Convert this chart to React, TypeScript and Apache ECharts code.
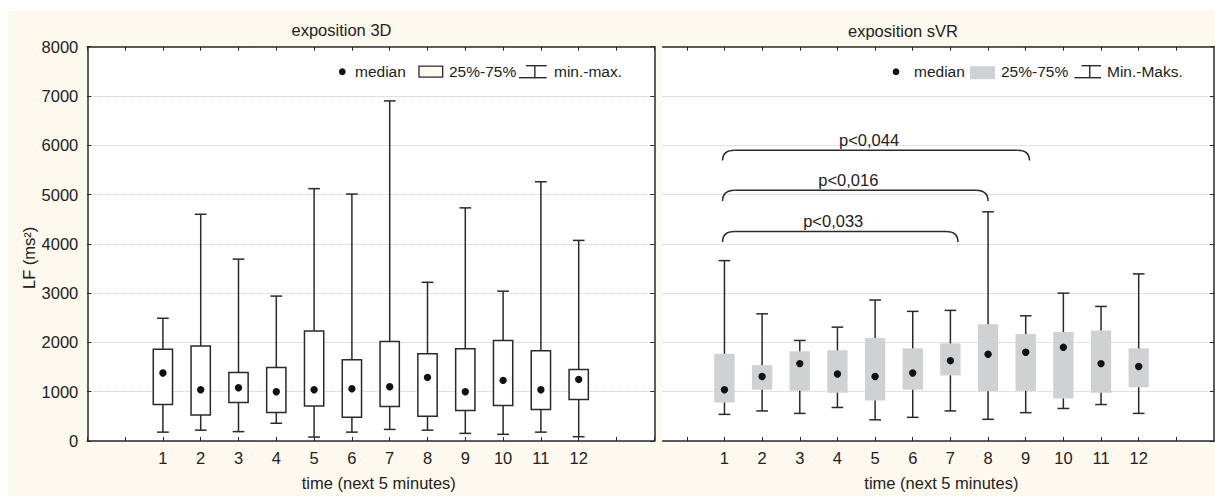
import React, { useEffect, useRef } from "react";
import * as echarts from "echarts";

// ---------- data ----------
const categories = [1, 2, 3, 4, 5, 6, 7, 8, 9, 10, 11, 12];
const xTickValues = [0, 1, 2, 3, 4, 5, 6, 7, 8, 9, 10, 11, 12, 13];

// exposition 3D
const d3Min = [180, 220, 190, 360, 80, 180, 235, 220, 155, 135, 180, 87];
const d3Q1 = [740, 530, 780, 580, 710, 480, 700, 500, 620, 720, 640, 840];
const d3Median = [1380, 1040, 1080, 1000, 1040, 1060, 1100, 1290, 1000, 1230, 1040, 1250];
const d3Q3 = [1860, 1930, 1390, 1490, 2230, 1650, 2020, 1770, 1870, 2040, 1830, 1450];
const d3Max = [2490, 4600, 3690, 2940, 5120, 5010, 6900, 3220, 4730, 3040, 5260, 4070];

// exposition sVR
const svrMin = [540, 610, 560, 680, 430, 480, 610, 440, 575, 660, 740, 560];
const svrQ1 = [780, 1040, 1020, 980, 820, 1040, 1330, 1010, 1020, 860, 980, 1090];
const svrMedian = [1040, 1310, 1570, 1360, 1310, 1380, 1630, 1760, 1800, 1900, 1570, 1510];
const svrQ3 = [1770, 1540, 1820, 1840, 2090, 1880, 1980, 2370, 2170, 2210, 2240, 1880];
const svrMax = [3660, 2580, 2040, 2310, 2860, 2630, 2650, 4650, 2540, 3000, 2730, 3390];

// significance brackets (sVR)
const bracketFrom = [0.95, 0.95, 0.95];
const bracketTo = [7.2, 8.0, 9.1];
const bracketTop = [4250, 5090, 5900];
const bracketLeg = [4040, 4870, 5690];
const bracketLabels = ["p<0,033", "p<0,016", "p<0,044"];

const panelTitles = ["exposition 3D", "exposition sVR"];
const legend3D = ["median", "25%-75%", "min.-max."];
const legendSVR = ["median", "25%-75%", "Min.-Maks."];
const xName = "time (next 5 minutes)";
const yName = "LF (ms²)";

// ---------- styles ----------
const FONT = "'Liberation Sans', Arial, Helvetica, sans-serif";
const TXT = "#222";
const LINE = "#2a2a2a";
const CREAM = "#fdf9ee";
const GRAY = "#d0d1d3";
const FS = 16.5;

const G0 = { left: 87.3, top: 46.7, width: 567, height: 397.3 };
const G1 = { left: 662.7, top: 46.7, width: 551.3, height: 397.3 };

function boxRenderer(filled: boolean) {
  return (params: any, api: any) => {
    const x = api.value(0);
    const pMin = api.coord([x, api.value(1)]);
    const pQ1 = api.coord([x, api.value(2)]);
    const pMed = api.coord([x, api.value(3)]);
    const pQ3 = api.coord([x, api.value(4)]);
    const pMax = api.coord([x, api.value(5)]);
    const bw = api.size([filled ? 0.54 : 0.51, 0])[0];
    const cw = api.size([0.31, 0])[0];
    const cx = pMed[0];
    const ls = { stroke: LINE, lineWidth: 1.5 };
    return {
      type: "group",
      children: [
        { type: "line", shape: { x1: cx, y1: pMax[1], x2: cx, y2: pMin[1] }, style: ls },
        { type: "line", shape: { x1: cx - cw / 2, y1: pMax[1], x2: cx + cw / 2, y2: pMax[1] }, style: ls },
        { type: "line", shape: { x1: cx - cw / 2, y1: pMin[1], x2: cx + cw / 2, y2: pMin[1] }, style: ls },
        {
          type: "rect",
          shape: { x: cx - bw / 2, y: pQ3[1], width: bw, height: pQ1[1] - pQ3[1] },
          style: filled ? { fill: GRAY } : { fill: "#fff", stroke: LINE, lineWidth: 1.5 },
        },
        { type: "circle", shape: { cx, cy: pMed[1], r: 3.7 }, style: { fill: "#111" } },
      ],
    };
  };
}

function bracketRenderer(params: any, api: any) {
  const a = api.coord([api.value(0), api.value(2)]);
  const b = api.coord([api.value(1), api.value(2)]);
  const legY = api.coord([api.value(0), api.value(3)])[1];
  const r = 12;
  const st = { stroke: LINE, lineWidth: 1.5, fill: "none" };
  return {
    type: "group",
    children: [
      { type: "bezierCurve", shape: { x1: a[0], y1: legY, cpx1: a[0], cpy1: a[1], x2: a[0] + r, y2: a[1] }, style: st },
      { type: "line", shape: { x1: a[0] + r, y1: a[1], x2: b[0] - r, y2: b[1] }, style: st },
      { type: "bezierCurve", shape: { x1: b[0] - r, y1: b[1], cpx1: b[0], cpy1: b[1], x2: b[0], y2: legY }, style: st },
      {
        type: "text",
        style: {
          text: bracketLabels[params.dataIndex],
          x: (a[0] + b[0]) / 2 - 7,
          y: a[1] - 2,
          align: "center",
          verticalAlign: "bottom",
          fontSize: FS,
          fontFamily: FONT,
          fill: TXT,
        },
      },
    ],
  };
}

function legendGraphics(labels: string[], filled: boolean, pos: number[]) {
  // pos: [dotX, medianTextX, boxX0, boxX1, pctTextX, symX0, symX1, mmTextX]
  const y = 71.7;
  const ls = { stroke: LINE, lineWidth: 1.4 };
  const t = (text: string, x: number) => ({
    type: "text",
    style: { text, x, y, align: "left", verticalAlign: "middle", fontSize: 15.5, fontFamily: FONT, fill: TXT },
  });
  const symMid = (pos[5] + pos[6]) / 2 + 2;
  return [
    { type: "circle", shape: { cx: pos[0], cy: y, r: 3.4 }, style: { fill: "#111" } },
    t(labels[0], pos[1]),
    {
      type: "rect",
      shape: { x: pos[2], y: y - 5.5, width: pos[3] - pos[2], height: filled ? 13 : 11 },
      style: filled ? { fill: GRAY } : { fill: CREAM, stroke: LINE, lineWidth: 1.3 },
    },
    t(labels[1], pos[4]),
    { type: "line", shape: { x1: pos[5] + 7, y1: y - 6, x2: pos[6], y2: y - 6 }, style: ls },
    { type: "line", shape: { x1: symMid, y1: y - 6, x2: symMid, y2: y + 6 }, style: ls },
    { type: "line", shape: { x1: pos[5], y1: y + 6, x2: pos[6], y2: y + 6 }, style: ls },
    t(labels[2], pos[7]),
  ];
}

export default function App() {
  const ref = useRef<HTMLDivElement>(null);

  useEffect(() => {
    if (!ref.current) return;
    const chart = echarts.init(ref.current, null, { renderer: "svg" });

    const axLine = { show: true, onZero: false, lineStyle: { color: LINE, width: 1.5 } };
    const yBase = {
      type: "value",
      min: 0,
      max: 8000,
      interval: 1000,
      axisLine: axLine,
      axisTick: { show: true, inside: true, length: 4, lineStyle: { color: LINE } },
      splitLine: { show: false },
      axisLabel: { show: false },
    };
    const gridSplit = { show: true, lineStyle: { type: "dotted", color: "#c4c4c4", width: 1 } };

    const xLabel = {
      show: true,
      color: TXT,
      fontSize: FS,
      fontFamily: FONT,
      margin: 8,
    };

    const option: any = {
      animation: false,
      textStyle: { fontFamily: FONT },
      grid: [
        { ...G0, show: true, backgroundColor: "#fff", borderWidth: 0 },
        { ...G1, show: true, backgroundColor: "#fff", borderWidth: 0 },
      ],
      xAxis: [
        {
          gridIndex: 0,
          type: "value",
          position: "bottom",
          min: -1,
          max: 14,
          interval: 1,
          axisLine: axLine,
          axisTick: { show: true, inside: true, length: 4, lineStyle: { color: LINE } },
          splitLine: { show: false },
          axisLabel: {
            ...xLabel,
            formatter: (v: number) => (categories.includes(v) ? String(v) : ""),
          },
          name: xName,
          nameLocation: "middle",
          nameGap: 33,
          nameTextStyle: { color: TXT, fontSize: FS, fontFamily: FONT, padding: [0, 0, 0, 16] },
        },
        {
          gridIndex: 0,
          type: "value",
          position: "top",
          min: -1,
          max: 14,
          interval: 1,
          axisLine: axLine,
          axisTick: { show: true, inside: true, length: 4, lineStyle: { color: LINE } },
          splitLine: { show: false },
          axisLabel: { show: false },
        },
        {
          gridIndex: 1,
          type: "value",
          position: "bottom",
          min: -0.64,
          max: 14,
          axisLine: axLine,
          axisTick: { show: true, inside: true, length: 4, lineStyle: { color: LINE }, customValues: xTickValues },
          splitLine: { show: false },
          axisLabel: { ...xLabel, customValues: categories, formatter: (v: number) => String(v) },
          name: xName,
          nameLocation: "middle",
          nameGap: 33,
          nameTextStyle: { color: TXT, fontSize: FS, fontFamily: FONT, padding: [0, 0, 0, 6] },
        },
        {
          gridIndex: 1,
          type: "value",
          position: "top",
          min: -0.64,
          max: 14,
          axisLine: axLine,
          axisTick: { show: true, inside: true, length: 4, lineStyle: { color: LINE }, customValues: xTickValues },
          splitLine: { show: false },
          axisLabel: { show: false },
        },
      ],
      yAxis: [
        {
          ...yBase,
          gridIndex: 0,
          position: "left",
          splitLine: gridSplit,
          axisLabel: { show: true, color: TXT, fontSize: FS, fontFamily: FONT, margin: 9, formatter: (v: number) => String(v) },
          name: yName,
          nameLocation: "middle",
          nameGap: 38,
          nameRotate: 90,
          nameTextStyle: { color: TXT, fontSize: FS, fontFamily: FONT, padding: [0, 28, 0, 0] },
        },
        { ...yBase, gridIndex: 0, position: "right" },
        { ...yBase, gridIndex: 1, position: "right", splitLine: gridSplit },
      ],
      series: [
        {
          type: "custom",
          xAxisIndex: 0,
          yAxisIndex: 0,
          renderItem: boxRenderer(false),
          encode: { x: 0, y: [1, 2, 3, 4, 5] },
          data: categories.map((c, i) => [c, d3Min[i], d3Q1[i], d3Median[i], d3Q3[i], d3Max[i]]),
          z: 5,
        },
        {
          type: "custom",
          xAxisIndex: 2,
          yAxisIndex: 2,
          renderItem: boxRenderer(true),
          encode: { x: 0, y: [1, 2, 3, 4, 5] },
          data: categories.map((c, i) => [c, svrMin[i], svrQ1[i], svrMedian[i], svrQ3[i], svrMax[i]]),
          z: 5,
        },
        {
          type: "custom",
          xAxisIndex: 2,
          yAxisIndex: 2,
          renderItem: bracketRenderer,
          encode: { x: [0, 1], y: [2, 3] },
          data: bracketLabels.map((_, i) => [bracketFrom[i], bracketTo[i], bracketTop[i], bracketLeg[i]]),
          z: 6,
        },
      ],
      graphic: [
        {
          type: "text",
          style: { text: panelTitles[0], x: 341.5, y: 30, align: "center", verticalAlign: "middle", fontSize: FS, fontFamily: FONT, fill: TXT },
        },
        {
          type: "text",
          style: { text: panelTitles[1], x: 903, y: 31, align: "center", verticalAlign: "middle", fontSize: FS, fontFamily: FONT, fill: TXT },
        },
        ...legendGraphics(legend3D, false, [342.3, 355, 419, 442.7, 449, 519, 546.7, 554]),
        ...legendGraphics(legendSVR, true, [896, 914, 970, 995, 1001, 1074.5, 1101, 1107]),
      ],
    };

    chart.setOption(option);
    return () => chart.dispose();
  }, []);

  return (
    <div style={{ position: "fixed", left: 0, top: 0, width: 1215, height: 496, background: "#fff", overflow: "hidden" }}>
      <div style={{ position: "absolute", left: 8, top: 11, width: 1207, height: 485, background: CREAM }} />
      <div ref={ref} style={{ position: "absolute", left: 0, top: 0, width: 1215, height: 496 }} />
    </div>
  );
}
